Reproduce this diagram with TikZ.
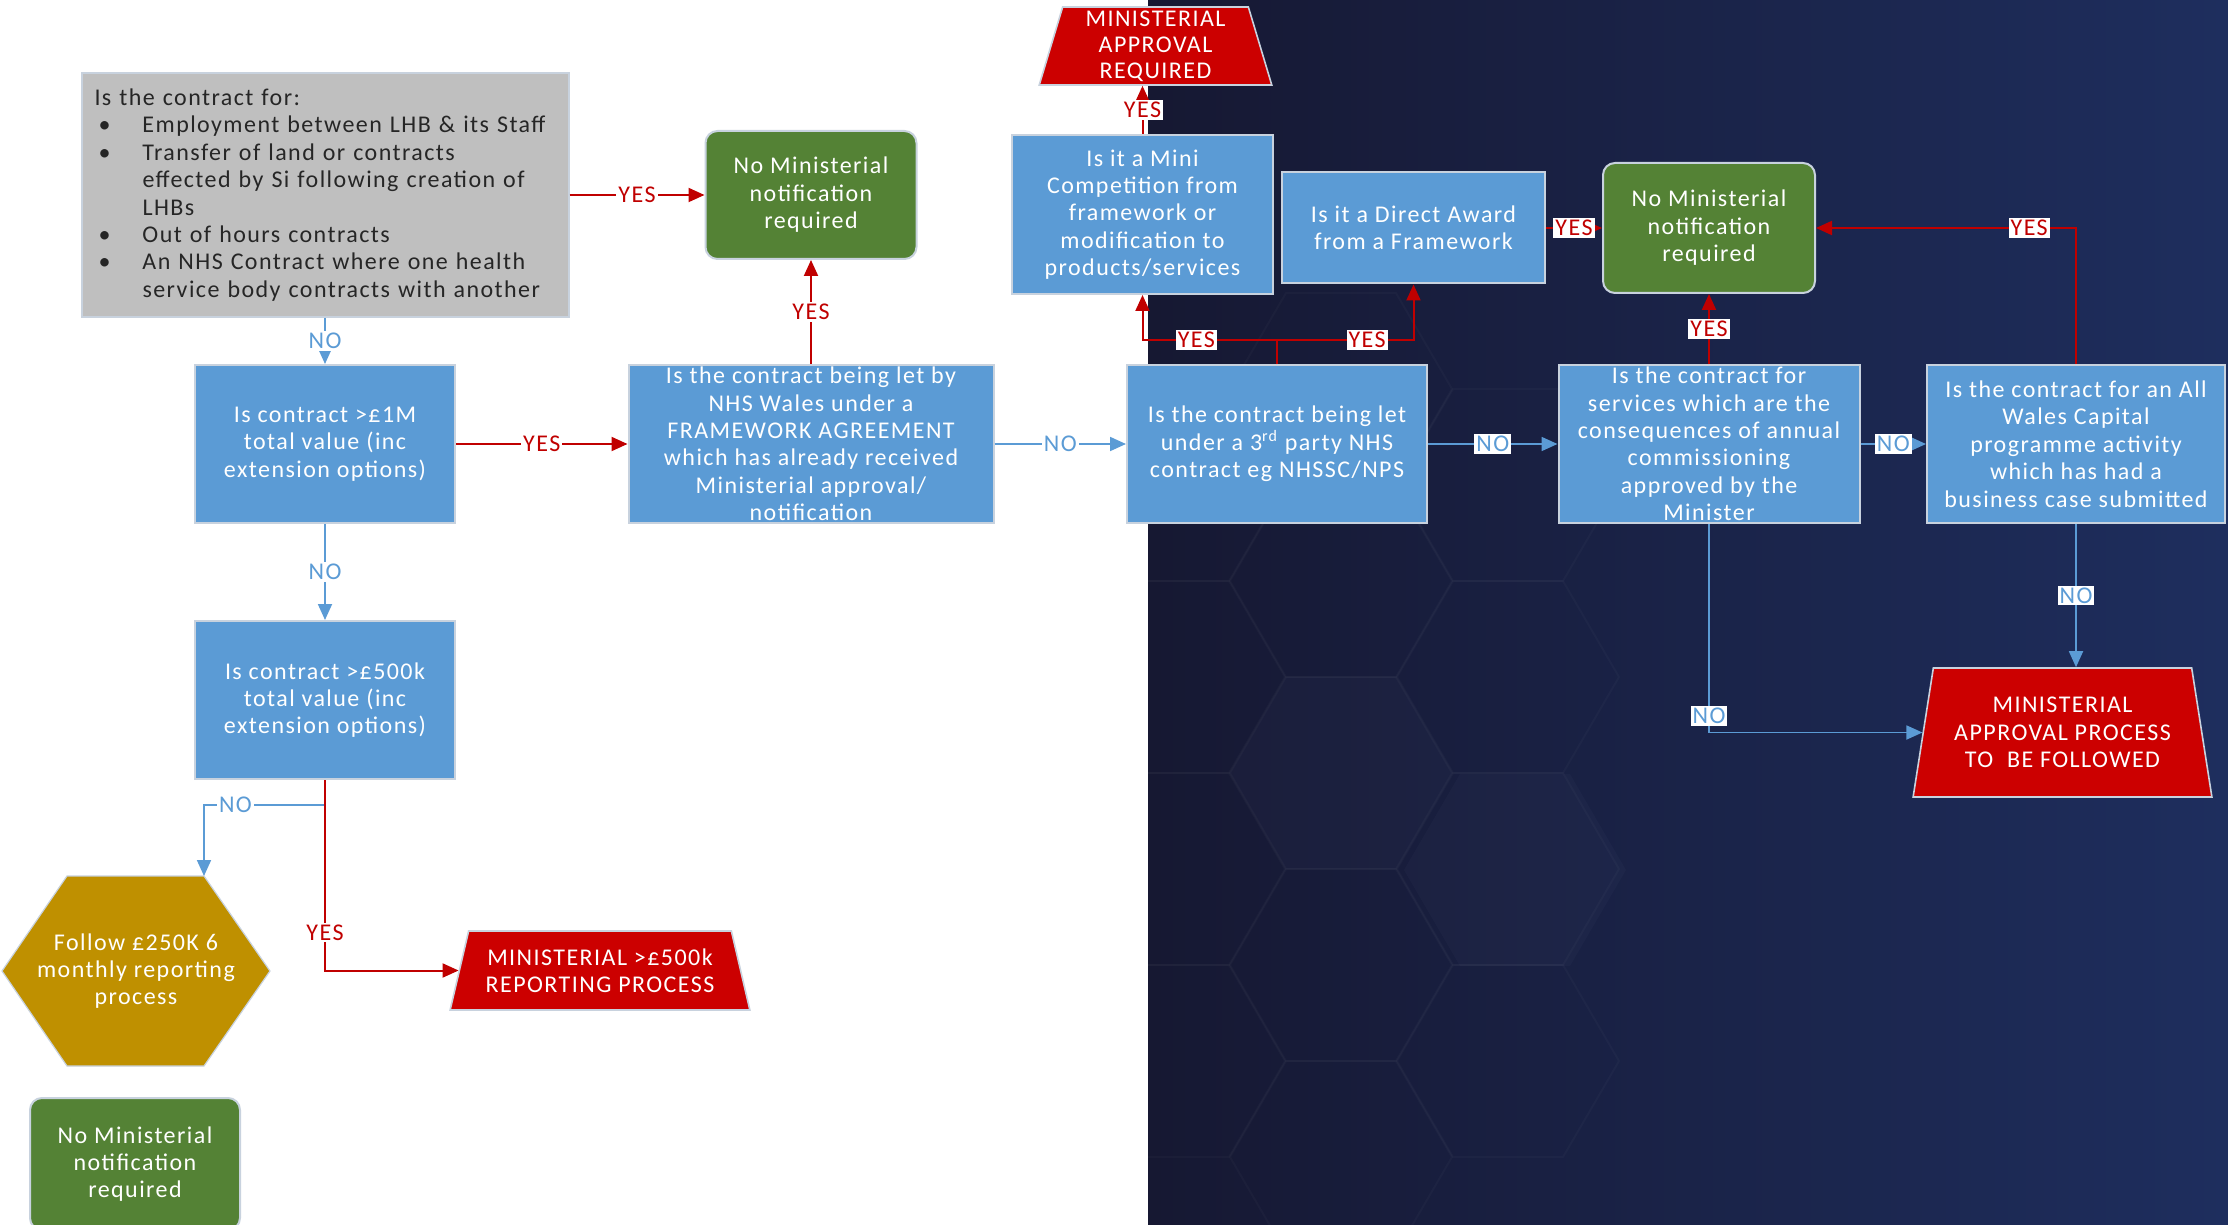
\documentclass[tikz,border=0pt]{standalone}
\usepackage{fontspec}
\setmainfont{Carlito}[LetterSpace=6]
\usetikzlibrary{shapes.geometric,arrows.meta}

\definecolor{BoxBlue}{RGB}{91,155,213}
\definecolor{LineBlue}{RGB}{91,155,213}
\definecolor{DarkRed}{RGB}{192,0,0}
\definecolor{BoxRed}{RGB}{204,0,0}
\definecolor{LeafGreen}{RGB}{84,130,53}
\definecolor{Gold}{RGB}{191,144,0}
\definecolor{Grey}{RGB}{191,191,191}
\definecolor{Navy}{RGB}{30,46,94}
\definecolor{NavyDark}{RGB}{22,24,50}
\definecolor{Edge}{RGB}{200,210,222}

\tikzset{
  txt/.style={font=\fontsize{12}{13.7}\selectfont},
  query/.style={txt, draw=Edge, line width=1pt, fill=BoxBlue, text=white, align=center,
    inner sep=0pt, minimum width=130pt, minimum height=79pt},
  leaf/.style={txt, draw=Edge, line width=1pt, fill=LeafGreen, text=white, align=center,
    rounded corners=6pt, inner sep=0pt},
  redtrap/.style={txt, trapezium, trapezium stretches=true, draw=Edge, line width=0.8pt,
    fill=BoxRed, text=white, align=center, inner sep=0pt},
  greybox/.style={txt, draw=Edge, line width=1pt, fill=Grey, text=black!85, align=left,
    inner xsep=6.5pt, inner ysep=0pt, text width=230.5pt, minimum height=122pt},
  yesline/.style={draw=DarkRed, line width=1pt, -{Triangle[length=8pt,width=7pt]}},
  noline/.style={draw=LineBlue, line width=0.9pt, -{Triangle[length=8pt,width=7pt]}},
  yeslab/.style={txt, fill=white, text=DarkRed, inner sep=1pt},
  nolab/.style={txt, fill=white, text=LineBlue, inner sep=1pt},
}
\newcommand{\bulletitem}{\hspace*{2pt}\makebox[22pt][l]{\textbullet}}
\newcommand{\bulletgap}{\hspace*{24pt}}

\begin{document}
\begin{tikzpicture}[x=0.5pt, y=-0.5pt]
  \useasboundingbox (0,0) rectangle (2228,1225);

  % Background
  \fill[white] (0,0) rectangle (1148,1225);
  \shade[left color=NavyDark, right color=Navy] (1148,0) rectangle (2228,1225);
  \begin{scope}
    \clip (1148,0) rectangle (2228,1225);
    \foreach \cx/\cy in {1341/773, 1515/870}
      \fill[Navy!70!white, opacity=0.06] ({\cx+111},\cy) -- ({\cx+55},{\cy+96}) -- ({\cx-55},{\cy+96})
        -- ({\cx-111},\cy) -- ({\cx-55},{\cy-96}) -- ({\cx+55},{\cy-96}) -- cycle;
    \foreach \cx/\cy in {1174/485, 1174/677, 1174/869, 1174/1061, 1341/389, 1341/581, 1341/773,
                         1341/965, 1341/1157, 1508/485, 1508/677, 1508/869, 1508/1061}
      \draw[white, opacity=0.025, line width=1pt] ({\cx+111},\cy) -- ({\cx+55},{\cy+96}) -- ({\cx-55},{\cy+96})
        -- ({\cx-111},\cy) -- ({\cx-55},{\cy-96}) -- ({\cx+55},{\cy-96}) -- cycle;
  \end{scope}

  % Exclusions
  \node[greybox] (excl) at (325,195) {Is the contract for:\\
    \bulletitem Employment between LHB \& its Staff\\
    \bulletitem Transfer of land or contracts\\
    \bulletgap effected by Si following creation of\\
    \bulletgap LHBs\\
    \bulletitem Out of hours contracts\\
    \bulletitem An NHS Contract where one health\\
    \bulletgap service body contracts with another};
  \node[leaf, minimum width=105.5pt, minimum height=64pt] (noneA) at (811,195)
    {No Ministerial\\notification\\required};

  % Value checks
  \node[query] (over1m) at (325,444) {Is contract >£1M\\total value (inc\\extension options)};
  \node[query] (over500k) at (325,700) {Is contract >£500k\\total value (inc\\extension options)};
  \fill[Gold, draw=Edge, line width=0.6pt] (2,971) -- (67,876) -- (204,876) -- (270,971) -- (204,1066) -- (67,1066) -- cycle;
  \node[txt, text=white, align=center] (follow) at (136,971) {Follow £250K 6\\monthly reporting\\process};
  \coordinate (followtop) at (204,876);
  \node[redtrap, trapezium left angle=70, trapezium right angle=70, minimum width=150pt,
    minimum height=39.5pt] (report) at (600,970.5) {MINISTERIAL >£500k\\REPORTING PROCESS};
  \node[leaf, minimum width=105pt, minimum height=66pt] (noneC) at (135,1164)
    {No Ministerial\\notification\\required};

  % Framework route
  \node[query, minimum width=182.5pt] (frame) at (811,444) {Is the contract being let by\\NHS Wales under a\\FRAMEWORK AGREEMENT\\which has already received\\Ministerial approval/\\notification};
  \node[query, minimum width=150pt] (third) at (1277,444) {Is the contract being let\\under a 3\textsuperscript{rd} party NHS\\contract eg NHSSC/NPS};
  \node[query, minimum width=130.5pt, minimum height=79.5pt] (mini) at (1142.5,214.5)
    {Is it a Mini\\Competition from\\framework or\\modification to\\products/services};
  \node[query, minimum width=131.5pt, minimum height=55.5pt] (direct) at (1413.5,228)
    {Is it a Direct Award\\from a Framework};
  \node[redtrap, font=\fontsize{12}{13}\selectfont, trapezium left angle=76, trapezium right angle=76,
    minimum width=116.5pt, minimum height=39pt] (approval) at (1155.5,46) {MINISTERIAL\\APPROVAL\\REQUIRED};
  \node[leaf, minimum width=106pt, minimum height=65pt] (noneB) at (1709,228)
    {No Ministerial\\notification\\required};
  \node[query, minimum width=150.5pt] (serv) at (1709,444) {Is the contract for\\services which are the\\consequences of annual\\commissioning\\approved by the\\Minister};
  \node[query, minimum width=149pt] (capital) at (2076,444) {Is the contract for an All\\Wales Capital\\programme activity\\which has had a\\business case submitted};
  \node[redtrap, trapezium left angle=76.5, trapezium right angle=76.5, minimum width=149.5pt,
    minimum height=64.5pt] (process) at (2062.5,732.5) {MINISTERIAL\\APPROVAL PROCESS\\TO\ \ BE FOLLOWED};

  % Connectors
  \draw[yesline] (excl.east) -- node[yeslab]{YES} (noneA.west);
  \draw[noline] (excl.south) -- node[nolab]{NO} (over1m.north);
  \draw[yesline] (over1m.east) -- node[yeslab]{YES} (frame.west);
  \draw[noline] (over1m.south) -- node[nolab]{NO} (over500k.north);
  \draw[noline] (over500k.south) -- ++(0,25) -| node[nolab, pos=0.37]{NO} (followtop);
  \draw[yesline] (over500k.south) |- node[yeslab, pos=0.4]{YES} (report.west);
  \draw[yesline] (frame.north) -- node[yeslab]{YES} (noneA.south);
  \draw[noline] (frame.east) -- node[nolab]{NO} (third.west);
  \draw[yesline] (third.north) -- ++(0,-24) -| node[yeslab, pos=0.3]{YES} (mini.south);
  \draw[yesline] (third.north) -- ++(0,-24) -| node[yeslab, pos=0.33]{YES} (direct.south);
  \draw[yesline] (mini.north) -- node[yeslab]{YES} (mini.north |- approval.south);
  \draw[yesline] (direct.east) -- node[yeslab]{YES} (noneB.west);
  \draw[noline] (third.east) -- node[nolab]{NO} (serv.west);
  \draw[yesline] (serv.north) -- node[yeslab]{YES} (noneB.south);
  \draw[noline] (serv.east) -- node[nolab]{NO} (capital.west);
  \draw[yesline] (capital.north) |- node[yeslab, pos=0.59]{YES} (noneB.east);
  \draw[noline] (capital.south) -- node[nolab]{NO} (capital.south |- process.north);
  \draw[noline] (serv.south) |- node[nolab, pos=0.46]{NO} (process.west);
\end{tikzpicture}
\end{document}
